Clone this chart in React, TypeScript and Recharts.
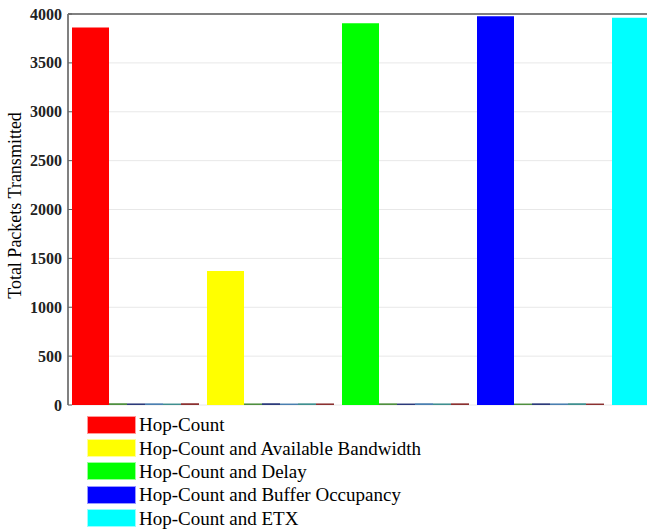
import React from "react";
import {
  BarChart,
  Bar,
  XAxis,
  YAxis,
  CartesianGrid,
  Legend,
  ReferenceLine,
} from "recharts";

// ─── Data ─────────────────────────────────────────────────────────────────────

const categories = ["C1", "C2", "C3", "C4", "C5"];

const seriesNames = [
  "Hop-Count",
  "Hop-Count and Available Bandwidth",
  "Hop-Count and Delay",
  "Hop-Count and Buffer Occupancy",
  "Hop-Count and ETX",
];

const seriesColors = ["#ff0000", "#ffff00", "#00ff00", "#0000ff", "#00ffff"];

// total packets transmitted, one per metric
const totals = [3862, 1371, 3905, 3977, 3962];

// small residual bars sitting on the baseline
const residualA = [18, 16, 17, 15, 18];
const residualB = [16, 18, 15, 17, 16];
const residualC = [17, 15, 18, 16, 17];
const residualD = [15, 17, 16, 18, 15];
const residualE = [18, 16, 17, 15, 16];
const residuals = [residualA, residualB, residualC, residualD, residualE];
const residualColors = ["#4f8f3f", "#2b3a7a", "#4a7fb0", "#3f8f8f", "#8b3030"];

const yTicks = [0, 500, 1000, 1500, 2000, 2500, 3000, 3500, 4000];

const data = categories.map((cat, i) => {
  const row: Record<string, number | string> = { cat };
  seriesNames.forEach((_, s) => {
    row[`s${s}`] = s === i ? totals[i] : 0;
  });
  residuals.forEach((arr, r) => {
    row[`r${r}`] = arr[i];
  });
  return row;
});

const serif = "'Liberation Serif', 'Times New Roman', serif";

// ─── Legend ───────────────────────────────────────────────────────────────────

function BoxLegend() {
  return (
    <div style={{ fontFamily: serif, fontSize: 19, color: "#000" }}>
      {seriesNames.map((name, i) => (
        <div
          key={name}
          style={{ display: "flex", alignItems: "center", height: 23.4 }}
        >
          <span
            style={{
              display: "inline-block",
              width: 47,
              height: 16,
              background: seriesColors[i],
              border: "1px solid rgba(255,255,255,0.6)",
              marginRight: 3,
            }}
          />
          <span style={{ lineHeight: 1 }}>{name}</span>
        </div>
      ))}
    </div>
  );
}

// ─── Axis pieces ──────────────────────────────────────────────────────────────

function YTick({ x, y, payload }: any) {
  return (
    <text
      x={x}
      y={y}
      textAnchor="end"
      dominantBaseline="central"
      fontFamily={serif}
      fontSize={16}
      fontWeight="bold"
      fill="#222"
    >
      {payload.value}
    </text>
  );
}

function YLabel({ viewBox }: any) {
  const x = viewBox.x + 7;
  const y = viewBox.y + viewBox.height / 2 - 4;
  return (
    <text
      x={x}
      y={y}
      transform={`rotate(-90 ${x} ${y})`}
      textAnchor="middle"
      dominantBaseline="central"
      fontFamily={serif}
      fontSize={18}
      fill="#000"
    >
      Total Packets Transmitted
    </text>
  );
}

// ─── Chart ────────────────────────────────────────────────────────────────────

export default function App() {
  return (
    <div
      style={{
        position: "fixed",
        top: 0,
        left: 0,
        width: 647,
        height: 529,
        overflow: "hidden",
        background: "#fff",
      }}
    >
      <BarChart
        width={743}
        height={529}
        data={data}
        margin={{ top: 14, right: 0, left: 8, bottom: 124 }}
        barGap={0}
        barCategoryGap={0}
      >
        <CartesianGrid vertical={false} stroke="#e8e8e8" />
        <XAxis
          dataKey="cat"
          tick={false}
          tickLine={false}
          height={0}
          axisLine={{ stroke: "#404040", strokeWidth: 1.5 }}
        />
        <YAxis
          domain={[0, 4000]}
          ticks={yTicks}
          width={60}
          tickSize={-4}
          tickMargin={10}
          tickLine={{ stroke: "#606060" }}
          axisLine={{ stroke: "#808080", strokeWidth: 2 }}
          tick={<YTick />}
          interval={0}
          label={<YLabel />}
        />
        <ReferenceLine y={4000} stroke="#808080" strokeWidth={2} />
        {seriesNames.map((name, s) => (
          <Bar
            key={name}
            dataKey={`s${s}`}
            name={name}
            stackId="main"
            barSize={37}
            fill={seriesColors[s]}
            isAnimationActive={false}
          />
        ))}
        {residuals.map((_, r) => (
          <Bar
            key={`r${r}`}
            dataKey={`r${r}`}
            barSize={18}
            fill={residualColors[r]}
            legendType="none"
            isAnimationActive={false}
          />
        ))}
        <Legend
          layout="horizontal"
          verticalAlign="middle"
          align="center"
          content={<BoxLegend />}
          wrapperStyle={{ left: 87, top: 413, width: 460, height: 120 }}
        />
      </BarChart>
    </div>
  );
}
